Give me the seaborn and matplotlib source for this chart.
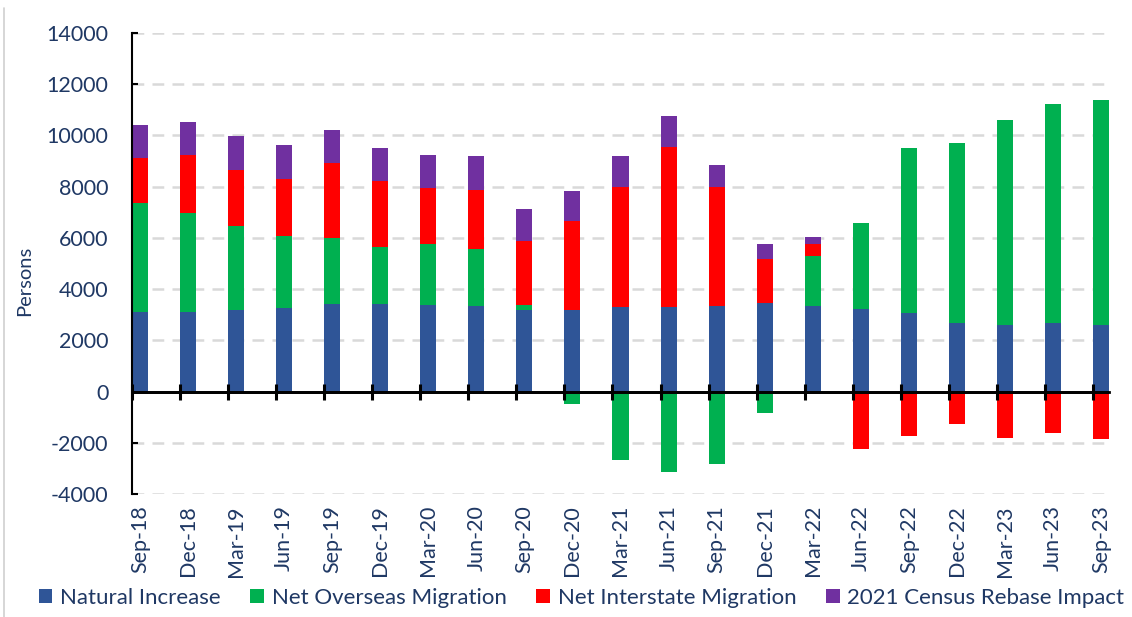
import numpy as np
import pandas as pd
import matplotlib
matplotlib.use("Agg")
import matplotlib.pyplot as plt
import seaborn as sns
from matplotlib.patches import Patch
from matplotlib.lines import Line2D

quarters = ["Sep-18", "Dec-18", "Mar-19", "Jun-19", "Sep-19", "Dec-19", "Mar-20",
            "Jun-20", "Sep-20", "Dec-20", "Mar-21", "Jun-21", "Sep-21", "Dec-21",
            "Mar-22", "Jun-22", "Sep-22", "Dec-22", "Mar-23", "Jun-23", "Sep-23"]
natural_increase = [3120, 3120, 3175, 3280, 3430, 3430, 3380, 3340, 3175, 3175, 3290,
                    3290, 3340, 3450, 3340, 3225, 3070, 2690, 2590, 2690, 2590]
net_overseas = [4230, 3840, 3300, 2810, 2555, 2230, 2380, 2215, 205, -500, -2670,
                -3150, -2830, -820, 1940, 3360, 6440, 7030, 8015, 8540, 8810]
net_interstate = [1780, 2265, 2160, 2225, 2930, 2550, 2175, 2330, 2500, 3475, 4700,
                  6260, 4650, 1730, 490, -2240, -1745, -1265, -1800, -1630, -1850]
census_rebase = [1290, 1300, 1350, 1305, 1300, 1300, 1300, 1300, 1240, 1170, 1200,
                 1200, 870, 585, 260, 0, 0, 0, 0, 0, 0]
series_names = ["Natural Increase", "Net Overseas Migration",
                "Net Interstate Migration", "2021 Census Rebase Impact"]
yticks = list(range(-4000, 14001, 2000))

colors = ["#2F5597", "#00B050", "#FF0000", "#7030A0"]
navy = "#1F3864"
FONT = ["Lato", "DejaVu Sans"]

sns.set_theme(style="white")
plt.rcParams["font.family"] = FONT

fig = plt.figure(figsize=(11.32, 6.17), dpi=100)
ax = fig.add_axes([132 / 1132, 1 - 494 / 617, (1109 - 132) / 1132, (494 - 33) / 617])

values = [natural_increase, net_overseas, net_interstate, census_rebase]
pos_bottom = np.zeros(len(quarters))
neg_bottom = np.zeros(len(quarters))
for name, vals, col in zip(series_names, values, colors):
    v = np.array(vals, dtype=float)
    bottom = np.where(v >= 0, pos_bottom, neg_bottom)
    df = pd.DataFrame({"quarter": quarters, "value": v})
    sns.barplot(data=df, x="quarter", y="value", order=quarters, color=col,
                saturation=1, width=0.333, errorbar=None, bottom=bottom,
                linewidth=0, ax=ax)
    pos_bottom = pos_bottom + np.where(v > 0, v, 0)
    neg_bottom = neg_bottom + np.where(v < 0, v, 0)

ax.set_xlim(-0.1665, len(quarters) - 1 + 0.1665)
ax.set_ylim(-4000, 14000)
ax.set_yticks(yticks)
ax.set_yticklabels([str(t) for t in yticks])

# gridlines
ax.yaxis.grid(True, color="#D9D9D9", linewidth=1.8, linestyle=(0, (4.7, 3.3)))
ax.xaxis.grid(False)
ax.set_axisbelow(True)

for s in ["top", "right", "bottom"]:
    ax.spines[s].set_visible(False)
ax.spines["left"].set_color("black")
ax.spines["left"].set_linewidth(1.5)

ax.tick_params(axis="y", direction="in", length=4, width=1.5, color="black",
               pad=17, labelsize=15.5, labelcolor=navy, left=True)
ax.tick_params(axis="x", length=0, pad=8, labelsize=15.5, labelcolor=navy,
               labelrotation=90)
for lab in ax.get_xticklabels():
    lab.set_va("top")
    lab.set_ha("center")

ax.set_xlabel("")
ax.set_ylabel("Persons", fontsize=14.5, color=navy, va="center")
ax.yaxis.set_label_coords((25 - 132) / 977, (494 - 281) / 461)

# zero axis line
ax.axhline(0, color="black", linewidth=2, zorder=5)

# tick marks at category boundaries on the zero line
zero_frac = (0 - (-4000)) / 18000
sec = ax.secondary_xaxis(zero_frac)
sec.set_xticks([i - 0.1665 for i in range(len(quarters))])
sec.set_xticklabels([])
sec.tick_params(direction="inout", length=11, width=2.2, color="black")
sec.spines["bottom"].set_linewidth(2)
sec.spines["bottom"].set_color("black")
sec.set_zorder(6)
for s in ["top", "left", "right"]:
    if s in sec.spines:
        sec.spines[s].set_visible(False)

handles = [Patch(facecolor=c, edgecolor="none") for c in colors]
fig.legend(handles, series_names, loc="center", bbox_to_anchor=(0.5137, 0.031),
           ncol=4, frameon=False, fontsize=16, labelcolor=navy,
           handlelength=0.6, handleheight=0.6, handletextpad=0.35,
           columnspacing=1.35, borderaxespad=0)

fig.add_artist(Line2D([4 / 1132, 4 / 1132], [0, 1 - 8 / 617], color="#D0D0D0",
                      linewidth=1.2, transform=fig.transFigure))

fig.savefig("out.png", dpi=100)
